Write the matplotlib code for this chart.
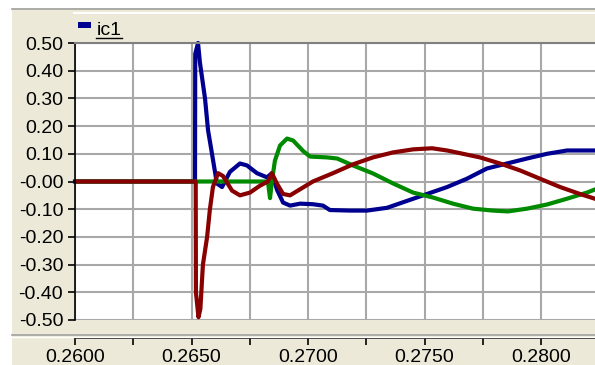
import numpy as np
import matplotlib.pyplot as plt
from matplotlib.patches import Rectangle
from matplotlib.lines import Line2D

plt.rcParams['font.family'] = ['Liberation Sans', 'DejaVu Sans']

# czasy i wartości
t_blue = [0.2600, 0.26515, 0.26516, 0.26528, 0.26536, 0.26558, 0.26571, 0.26588,
          0.26609, 0.26631, 0.26665, 0.26708, 0.26738, 0.26781, 0.26824, 0.26845,
          0.26867, 0.26893, 0.26923, 0.26966, 0.27021, 0.27064, 0.27094, 0.27180,
          0.27253, 0.27339, 0.27425, 0.27511, 0.27597, 0.27682, 0.27768, 0.27854,
          0.27940, 0.28026, 0.28112, 0.28253]
ic_blue = [0.0, 0.0, 0.46, 0.50, 0.43, 0.30, 0.185, 0.10,
           -0.007, -0.02, 0.035, 0.065, 0.058, 0.03, 0.015, 0.03,
           -0.03, -0.076, -0.087, -0.08, -0.082, -0.087, -0.103, -0.105,
           -0.105, -0.095, -0.07, -0.045, -0.02, 0.01, 0.047, 0.065,
           0.083, 0.10, 0.112, 0.112]

t_red = [0.2600, 0.26518, 0.26519, 0.26530, 0.26538, 0.26549, 0.26567, 0.26579,
         0.26592, 0.26614, 0.26635, 0.26674, 0.26708, 0.26751, 0.26794, 0.26828,
         0.26845, 0.26867, 0.26893, 0.26923, 0.26966, 0.27021, 0.27107, 0.27193,
         0.27279, 0.27365, 0.27451, 0.27532, 0.27597, 0.27665, 0.27738, 0.27824,
         0.27910, 0.27996, 0.28082, 0.28167, 0.28253]
ic_red = [0.0, 0.0, -0.40, -0.49, -0.46, -0.30, -0.20, -0.10,
          -0.02, 0.03, 0.02, -0.033, -0.05, -0.04, -0.015, 0.0,
          0.03, -0.008, -0.045, -0.05, -0.028, 0.0, 0.03, 0.062,
          0.087, 0.105, 0.116, 0.12, 0.112, 0.10, 0.087, 0.065,
          0.04, 0.01, -0.02, -0.045, -0.068]

t_green = [0.2600, 0.26515, 0.26828, 0.26837, 0.26845, 0.26858, 0.26880, 0.26910,
           0.26936, 0.26979, 0.27009, 0.27082, 0.27125, 0.27193, 0.27279, 0.27365,
           0.27451, 0.27537, 0.27622, 0.27708, 0.27794, 0.27858, 0.27940, 0.28026,
           0.28112, 0.28197, 0.28253]
ic_green = [0.0, 0.0, 0.0, -0.06, 0.0, 0.075, 0.13, 0.155,
            0.148, 0.11, 0.09, 0.087, 0.083, 0.058, 0.029, -0.007,
            -0.04, -0.058, -0.08, -0.098, -0.105, -0.108, -0.098, -0.083,
            -0.062, -0.04, -0.022]

y_ticks = np.round(np.arange(-0.5, 0.51, 0.1), 2)
x_major = [0.2600, 0.2650, 0.2700, 0.2750, 0.2800]
x_minor = [0.2625, 0.2675, 0.2725, 0.2775]

beige = '#ECE9D8'
W, H = 595, 365
fig = plt.figure(figsize=(W / 100, H / 100), dpi=100, facecolor=beige)

def fx(px):
    return px / W

def fy(py):
    return 1 - py / H

# białe paski u góry i z lewej
fig.patches.append(Rectangle((0, fy(8)), 1, 8 / H, transform=fig.transFigure,
                             facecolor='white', edgecolor='none'))
fig.patches.append(Rectangle((0, 0), fx(12), 1, transform=fig.transFigure,
                             facecolor='white', edgecolor='none'))
fig.lines.append(Line2D([fx(12), 1], [fy(9), fy(9)], transform=fig.transFigure,
                        color='#A0A0A0', lw=1.2))
fig.lines.append(Line2D([fx(74), 1], [fy(13), fy(13)], transform=fig.transFigure,
                        color='white', lw=1.5))
fig.lines.append(Line2D([fx(12), 1], [fy(335), fy(335)], transform=fig.transFigure,
                        color='#A0A0A0', lw=1.2))
fig.lines.append(Line2D([fx(12), 1], [fy(336.5), fy(336.5)], transform=fig.transFigure,
                        color='white', lw=1))

ax = fig.add_axes([fx(75), fy(320), 1 - fx(75), (320 - 43) / H])
ax.set_facecolor('white')

ax.plot(t_blue, ic_blue, color='#000090', lw=3, solid_joinstyle='round', clip_on=False)
ax.plot(t_green, ic_green, color='#008A00', lw=3, solid_joinstyle='round')
ax.plot(t_red, ic_red, color='#880000', lw=3, solid_joinstyle='round')

ax.set_xlim(0.2600, 0.2600 + 520 / 116.5 * 0.005)
ax.set_ylim(-0.5, 0.5)

ax.set_yticks(y_ticks)
ax.set_yticklabels([f'{v:.2f}' for v in y_ticks])
ax.set_xticks(x_major)
ax.set_xticklabels([f'{v:.4f}' for v in x_major])
ax.set_xticks(x_minor, minor=True)

ax.grid(True, which='both', color='#A8A8A8', lw=1.5)
ax.set_axisbelow(True)

ax.tick_params(axis='y', direction='out', length=5, width=1.2, color='black',
               labelsize=14, pad=3.5)
ax.tick_params(axis='x', which='both', direction='out', length=5, width=1.2,
               color='black', labelsize=14, pad=3)

ax.spines['right'].set_visible(False)
ax.spines['top'].set_color('#808080')
ax.spines['top'].set_linewidth(1.5)
ax.spines['left'].set_color('black')
ax.spines['left'].set_linewidth(1.2)
ax.spines['bottom'].set_position(('outward', 13))
ax.spines['bottom'].set_color('black')
ax.spines['bottom'].set_linewidth(1.2)

# legenda w pasku tytułowym
fig.patches.append(Rectangle((fx(78), fy(28)), 13 / W, 6 / H, transform=fig.transFigure,
                             facecolor='#000090', edgecolor='none'))
fig.text(fx(97), fy(35), 'ic1', fontsize=14, ha='left', va='baseline')
fig.lines.append(Line2D([fx(96), fx(122)], [fy(37.5), fy(37.5)], transform=fig.transFigure,
                        color='black', lw=1))

fig.savefig('out.png', dpi=100, facecolor=beige)
